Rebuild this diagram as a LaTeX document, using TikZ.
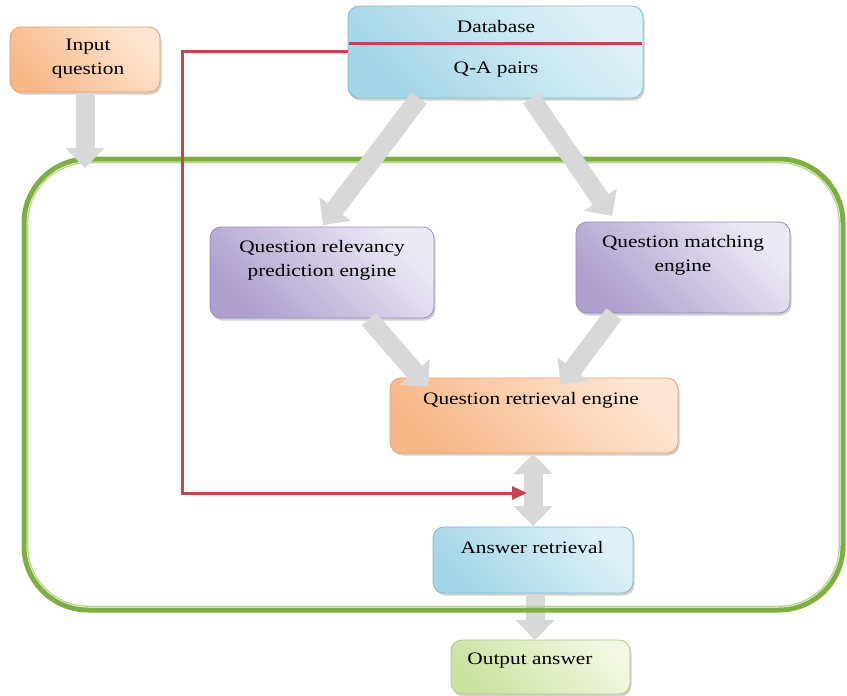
\documentclass[tikz,border=0pt]{standalone}
\usepackage{fontspec}
\setmainfont{Liberation Serif}[FakeStretch=1.22]
\usetikzlibrary{arrows.meta,shadows}
\definecolor{gArrow}{HTML}{D8D8D8}
\definecolor{redLine}{HTML}{C8424F}
\definecolor{frameG}{HTML}{7DB040}
\definecolor{frameL}{HTML}{B9D690}
\definecolor{orA}{HTML}{F8B787}\definecolor{orB}{HTML}{FDE6D3}\definecolor{orD}{HTML}{E8A06C}
\definecolor{blA}{HTML}{A3D6E6}\definecolor{blB}{HTML}{E0F2F7}\definecolor{blD}{HTML}{80B8CC}
\definecolor{puA}{HTML}{AE9FCD}\definecolor{puB}{HTML}{EDE9F4}\definecolor{puD}{HTML}{978AC0}
\definecolor{grA}{HTML}{CBE1A0}\definecolor{grB}{HTML}{F2F8E3}\definecolor{grD}{HTML}{AFCB7E}
\begin{document}
\begin{tikzpicture}[x=1pt,y=-1pt,
  font=\fontsize{17.5}{24}\selectfont,
  boxbase/.style={rounded corners=11pt, inner sep=0pt, line width=0.8pt,
    drop shadow={shadow xshift=1.5pt,shadow yshift=-2.5pt,opacity=0.3,fill=black!60}},
  orbox/.style={boxbase, draw=orD, left color=orA, right color=orB, shading angle=135},
  blbox/.style={boxbase, draw=blD, left color=blA, right color=blB, shading angle=135},
  pubox/.style={boxbase, draw=puD, left color=puA, right color=puB, shading angle=135},
  grbox/.style={boxbase, draw=grD, left color=grA, right color=grB, shading angle=135},
  txt/.style={inner sep=0pt, align=center},
  garrow/.style={draw=gArrow, line width=19pt, -{Triangle[width=38pt,length=20pt]}},
  gdarrow/.style={draw=gArrow, line width=19pt, {Triangle[width=38pt,length=20pt]}-{Triangle[width=38pt,length=20pt]}},
  rline/.style={draw=redLine, line width=3pt}
]
\useasboundingbox (0,0) rectangle (847,696);

% boxes
\node[orbox, minimum width=150pt, minimum height=65pt] (inp) at (85,59.5) {};
\node[blbox, minimum width=295pt, minimum height=92pt] (db) at (495.5,52) {};
\node[pubox, minimum width=224pt, minimum height=91pt] (rel) at (322,272.5) {};
\node[pubox, minimum width=214pt, minimum height=91pt] (mat) at (683,267.5) {};
\node[orbox, minimum width=288pt, minimum height=75pt] (ret) at (534,415.5) {};
\node[blbox, minimum width=200pt, minimum height=66pt] (ans) at (533,560) {};
\node[grbox, minimum width=179pt, minimum height=54pt] (out) at (540.5,667) {};

% database divider
\coordinate (dbl) at (349,43);
\coordinate (dbr) at (642,43);
\draw[rline] (dbl) -- (dbr);

% texts
\node[txt] (tinp) at (88,59) {Input\\question};
\node[txt] (tdb) at (496,27) {Database};
\node[txt] (tqa) at (496,70) {Q-A pairs};
\node[txt] (trel) at (322,260) {Question relevancy\\prediction engine};
\node[txt] (tmat) at (683,255) {Question matching\\engine};
\node[txt] (tret) at (531,400) {Question retrieval engine};
\node[txt] (tans) at (532,548) {Answer retrieval};
\node[txt] (tout) at (530,661) {Output answer};

% answer -> output arrow (under the frame)
\coordinate (a1) at (535,594);
\coordinate (a2) at (535,640);
\draw[garrow] (a1) -- (a2);

% green frame
\draw[draw=frameG, line width=5pt, rounded corners=64pt] (24,159) rectangle (843,610);
\draw[draw=frameL, line width=1.3pt, rounded corners=60pt] (27.8,162.8) rectangle (839.2,606.2);

% gray arrows
\coordinate (i1) at (85,93);
\coordinate (i2) at (85,168);
\draw[garrow] (i1) -- (i2);
\coordinate (d1) at (419,98);
\coordinate (d2) at (323,225);
\draw[garrow] (d1) -- (d2);
\coordinate (d3) at (531,98);
\coordinate (d4) at (612,216);
\draw[garrow] (d3) -- (d4);
\coordinate (r1) at (369,319);
\coordinate (r2) at (428,387);
\draw[garrow] (r1) -- (r2);
\coordinate (m1) at (614,314);
\coordinate (m2) at (561,385);
\draw[garrow] (m1) -- (m2);
\coordinate (q1) at (533,454);
\coordinate (q2) at (533,526);
\draw[gdarrow] (q1) -- (q2);

% red feedback line
\coordinate (rs) at (348,51);
\coordinate (rc1) at (182,51);
\coordinate (rc2) at (182,493);
\coordinate (re) at (527,493);
\draw[rline, -{Triangle[width=13pt,length=15pt]}] (rs) -- (rc1) -- (rc2) -- (re);
\end{tikzpicture}
\end{document}
